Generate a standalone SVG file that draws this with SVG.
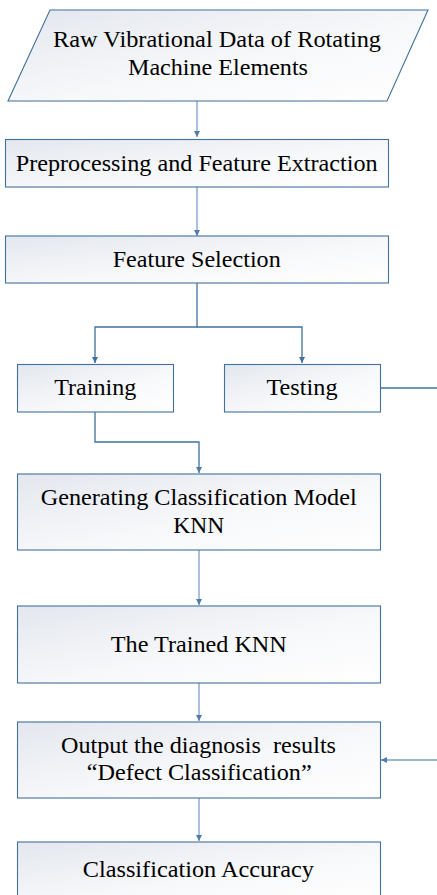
<svg xmlns="http://www.w3.org/2000/svg" width="437" height="895" viewBox="0 0 437 895">
<defs>
<linearGradient id="fill" x1="0" y1="0" x2="1" y2="1">
<stop offset="0" stop-color="#e3e7ee"/>
<stop offset="0.55" stop-color="#f7f8fa"/>
<stop offset="1" stop-color="#ffffff"/>
</linearGradient>
<marker id="arr" viewBox="0 0 6 6" refX="6" refY="3" markerWidth="6" markerHeight="6" markerUnits="userSpaceOnUse" orient="auto">
<path d="M0,0 L6,3 L0,6 Z" fill="#4f7cab"/>
</marker>
<marker id="arr2" viewBox="0 0 6 6" refX="6" refY="3" markerWidth="6" markerHeight="6" markerUnits="userSpaceOnUse" orient="auto">
<path d="M0,0 L6,3 L0,6 Z" fill="#41719c"/>
</marker>
</defs>
<style>
.box{fill:url(#fill);stroke:#41719c;stroke-width:1.1}
.t{font-family:'Liberation Serif','DejaVu Serif','Times New Roman',serif;font-size:23px;fill:#000;text-anchor:middle}
.c{fill:none;stroke:#7d9fc8;stroke-width:1.3}
.d{fill:none;stroke:#41719c;stroke-width:1.3}
</style>
<g id="connectors">
<path class="c" d="M197,101 V137" marker-end="url(#arr)"/>
<path class="c" d="M197,187 V236" marker-end="url(#arr)"/>
<path class="d" d="M197,283 V327 H95 V363" marker-end="url(#arr2)"/>
<path class="d" d="M197,327 H302 V363" marker-end="url(#arr2)"/>
<path class="d" d="M95,412 V442 H199 V473" marker-end="url(#arr)"/>
<path class="c" d="M199,550 V605" marker-end="url(#arr)"/>
<path class="c" d="M199,683 V721" marker-end="url(#arr)"/>
<path class="c" d="M199,798 V841" marker-end="url(#arr)"/>
<path class="d" d="M380.5,388 H437"/>
<path class="c" d="M437,760 H381" marker-end="url(#arr)"/>
</g>
<g id="raw">
<polygon class="box" points="50,10 428,10 387,101 8,101"/>
<text class="t" font-family="Liberation Serif, serif" x="217" y="47" textLength="328" lengthAdjust="spacingAndGlyphs">Raw Vibrational Data of Rotating</text>
<text class="t" x="218" y="75" textLength="180" lengthAdjust="spacingAndGlyphs">Machine Elements</text>
</g>
<g id="preprocessing">
<rect class="box" x="5.5" y="139.5" width="383" height="47.5"/>
<text class="t" x="196.7" y="171" textLength="362" lengthAdjust="spacingAndGlyphs">Preprocessing and Feature Extraction</text>
</g>
<g id="selection">
<rect class="box" x="5.5" y="236" width="383" height="47"/>
<text class="t" x="196.7" y="267" textLength="168" lengthAdjust="spacingAndGlyphs">Feature Selection</text>
</g>
<g id="training">
<rect class="box" x="17.5" y="364.5" width="156" height="47.5"/>
<text class="t" x="95.2" y="395" textLength="82" lengthAdjust="spacingAndGlyphs">Training</text>
</g>
<g id="testing">
<rect class="box" x="224.5" y="364.5" width="156" height="47.5"/>
<text class="t" x="302" y="395" textLength="71" lengthAdjust="spacingAndGlyphs">Testing</text>
</g>
<g id="generating">
<rect class="box" x="17.5" y="474" width="363" height="76"/>
<text class="t" x="198.7" y="505" textLength="316" lengthAdjust="spacingAndGlyphs">Generating Classification Model</text>
<text class="t" x="198.7" y="533" textLength="51" lengthAdjust="spacingAndGlyphs">KNN</text>
</g>
<g id="trained">
<rect class="box" x="17.5" y="606" width="363" height="77"/>
<text class="t" x="198.8" y="652" textLength="176" lengthAdjust="spacingAndGlyphs">The Trained KNN</text>
</g>
<g id="output">
<rect class="box" x="17.5" y="722" width="363" height="76"/>
<text class="t" x="198.5" y="753" textLength="275" lengthAdjust="spacingAndGlyphs" xml:space="preserve">Output the diagnosis  results</text>
<text class="t" x="199.2" y="780" textLength="225" lengthAdjust="spacingAndGlyphs">“Defect Classification”</text>
</g>
<g id="accuracy">
<rect class="box" x="17.5" y="842" width="363" height="60"/>
<text class="t" x="198.3" y="877" textLength="231" lengthAdjust="spacingAndGlyphs">Classification Accuracy</text>
</g>
</svg>
